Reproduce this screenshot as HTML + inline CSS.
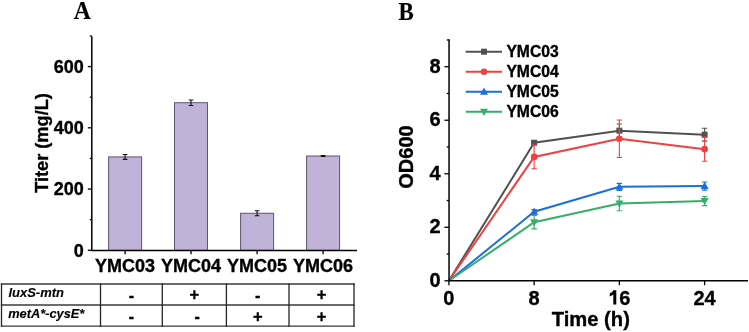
<!DOCTYPE html>
<html><head><meta charset="utf-8"><style>
html,body{margin:0;padding:0;background:#fff;}
svg{display:block;will-change:transform;}
text{font-family:"Liberation Sans",sans-serif;font-weight:bold;fill:#000;stroke:#000;stroke-width:0.35px;}
text.it{stroke-width:0.15px;}
text.serif{font-family:"Liberation Serif",serif;stroke-width:0.15px;}
</style></head><body>
<svg width="749" height="332" viewBox="0 0 749 332">
<text transform="translate(82.3 18.8) scale(0.95 1.0)" font-size="25" text-anchor="middle" class="serif">A</text>
<rect x="108.6" y="156.91" width="33" height="93.49" fill="#C0B2D8" stroke="#5E5670" stroke-width="1"/>
<path d="M125.1 154.46V159.36M122.8 154.46H127.4M122.8 159.36H127.4" stroke="#111" stroke-width="1.1" fill="none"/>
<text x="125.1" y="271.5" font-size="18" text-anchor="middle">YMC03</text>
<path d="M125.1 250.4V254.3" stroke="#000" stroke-width="1.3"/>
<rect x="174.5" y="102.71" width="33" height="147.69" fill="#C0B2D8" stroke="#5E5670" stroke-width="1"/>
<path d="M191 99.96V105.47M188.7 99.96H193.3M188.7 105.47H193.3" stroke="#111" stroke-width="1.1" fill="none"/>
<text x="191" y="271.5" font-size="18" text-anchor="middle">YMC04</text>
<path d="M191 250.4V254.3" stroke="#000" stroke-width="1.3"/>
<rect x="240.6" y="213.25" width="33" height="37.15" fill="#C0B2D8" stroke="#5E5670" stroke-width="1"/>
<path d="M257.1 210.8V215.7M254.8 210.8H259.4M254.8 215.7H259.4" stroke="#111" stroke-width="1.1" fill="none"/>
<text x="257.1" y="271.5" font-size="18" text-anchor="middle">YMC05</text>
<path d="M257.1 250.4V254.3" stroke="#000" stroke-width="1.3"/>
<rect x="306.6" y="155.99" width="33" height="94.41" fill="#C0B2D8" stroke="#5E5670" stroke-width="1"/>
<path d="M323.1 155.53V156.45M320.8 155.53H325.4M320.8 156.45H325.4" stroke="#111" stroke-width="1.1" fill="none"/>
<text x="323.1" y="271.5" font-size="18" text-anchor="middle">YMC06</text>
<path d="M323.1 250.4V254.3" stroke="#000" stroke-width="1.3"/>
<path d="M91.8 36.2V250.4H357" stroke="#000" stroke-width="1.5" fill="none"/>
<path d="M87.8 250.3H91.8" stroke="#000" stroke-width="1.3"/>
<text x="83.8" y="256.5" font-size="18" text-anchor="end">0</text>
<path d="M89.8 219.68H91.8" stroke="#000" stroke-width="1.3"/>
<path d="M87.8 189.06H91.8" stroke="#000" stroke-width="1.3"/>
<text x="83.8" y="195.26" font-size="18" text-anchor="end">200</text>
<path d="M89.8 158.44H91.8" stroke="#000" stroke-width="1.3"/>
<path d="M87.8 127.82H91.8" stroke="#000" stroke-width="1.3"/>
<text x="83.8" y="134.02" font-size="18" text-anchor="end">400</text>
<path d="M89.8 97.2H91.8" stroke="#000" stroke-width="1.3"/>
<path d="M87.8 66.58H91.8" stroke="#000" stroke-width="1.3"/>
<text x="83.8" y="72.78" font-size="18" text-anchor="end">600</text>
<path d="M89.8 35.96H91.8" stroke="#000" stroke-width="1.3"/>
<text transform="translate(47.8 143) rotate(-90)" font-size="18.2" text-anchor="middle">Titer (mg/L)</text>
<path d="M0.85 284H354.65" stroke="#3a3a3a" stroke-width="1.3"/>
<path d="M0.85 305H354.65" stroke="#3a3a3a" stroke-width="1.3"/>
<path d="M0.85 326.2H354.65" stroke="#3a3a3a" stroke-width="1.3"/>
<path d="M1.5 283.35V326.85" stroke="#262626" stroke-width="1.3"/>
<path d="M100.5 283.35V326.85" stroke="#262626" stroke-width="1.3"/>
<path d="M162.3 283.35V326.85" stroke="#262626" stroke-width="1.3"/>
<path d="M226.4 283.35V326.85" stroke="#262626" stroke-width="1.3"/>
<path d="M289 283.35V326.85" stroke="#262626" stroke-width="1.3"/>
<path d="M354 283.35V326.85" stroke="#262626" stroke-width="1.3"/>
<text x="8.4" y="296.7" font-size="13" font-style="italic" class="it">luxS-mtn</text>
<text x="8.2" y="317.8" font-size="12.8" font-style="italic" class="it">metA*-cysE*</text>
<text x="131.4" y="300.5" font-size="16" text-anchor="middle">-</text>
<text x="194.4" y="300.2" font-size="16.5" text-anchor="middle">+</text>
<text x="257.7" y="300.5" font-size="16" text-anchor="middle">-</text>
<text x="321.5" y="300.2" font-size="16.5" text-anchor="middle">+</text>
<text x="131.4" y="322" font-size="16" text-anchor="middle">-</text>
<text x="197.2" y="322" font-size="16" text-anchor="middle">-</text>
<text x="257.7" y="321.7" font-size="16.5" text-anchor="middle">+</text>
<text x="321.5" y="321.7" font-size="16.5" text-anchor="middle">+</text>
<text transform="translate(406.2 19.6) scale(0.955 1.07)" font-size="24" text-anchor="middle" class="serif">B</text>
<path d="M444.4 280.8H448.9" stroke="#000" stroke-width="1.3"/>
<text x="440.6" y="286.8" font-size="20" text-anchor="end">0</text>
<path d="M446.7 254.04H448.9" stroke="#000" stroke-width="1.3"/>
<path d="M444.4 227.28H448.9" stroke="#000" stroke-width="1.3"/>
<text x="440.6" y="233.28" font-size="20" text-anchor="end">2</text>
<path d="M446.7 200.52H448.9" stroke="#000" stroke-width="1.3"/>
<path d="M444.4 173.76H448.9" stroke="#000" stroke-width="1.3"/>
<text x="440.6" y="179.76" font-size="20" text-anchor="end">4</text>
<path d="M446.7 147H448.9" stroke="#000" stroke-width="1.3"/>
<path d="M444.4 120.24H448.9" stroke="#000" stroke-width="1.3"/>
<text x="440.6" y="126.24" font-size="20" text-anchor="end">6</text>
<path d="M446.7 93.48H448.9" stroke="#000" stroke-width="1.3"/>
<path d="M444.4 66.72H448.9" stroke="#000" stroke-width="1.3"/>
<text x="440.6" y="72.72" font-size="20" text-anchor="end">8</text>
<path d="M446.7 39.96H448.9" stroke="#000" stroke-width="1.3"/>
<path d="M448.9 280.8V285.2" stroke="#000" stroke-width="1.3"/>
<text x="448.9" y="304.5" font-size="20" text-anchor="middle">0</text>
<path d="M534.13 280.8V285.2" stroke="#000" stroke-width="1.3"/>
<text x="534.13" y="304.5" font-size="20" text-anchor="middle">8</text>
<path d="M619.36 280.8V285.2" stroke="#000" stroke-width="1.3"/>
<text x="619.36" y="304.5" font-size="20">6</text>
<path d="M613.4 290.3H616.3V304.6H613.3V294.6Q611.9 295.8 609.8 296.5V293.5Q612.3 292.5 613.4 290.3Z" fill="#000"/>
<path d="M704.6 280.8V285.2" stroke="#000" stroke-width="1.3"/>
<text x="704.6" y="304.5" font-size="20" text-anchor="middle">24</text>
<text x="590.8" y="326.4" font-size="20.2" text-anchor="middle">Time (h)</text>
<text transform="translate(413.2 157) rotate(-90)" font-size="20" text-anchor="middle">OD600</text>
<path d="M448.9 280.8 L534.13 142.72 L619.36 130.68 L704.6 134.69" stroke="#515151" stroke-width="2" fill="none"/>
<path d="M448.9 280.8 L534.13 156.9 L619.36 138.7 L704.6 149.14" stroke="#F14040" stroke-width="2" fill="none"/>
<path d="M448.9 280.8 L534.13 211.76 L619.36 186.87 L704.6 186.07" stroke="#1A6FDF" stroke-width="2" fill="none"/>
<path d="M448.9 280.8 L534.13 222.2 L619.36 203.46 L704.6 201.06" stroke="#37AD6B" stroke-width="2" fill="none"/>
<path d="M534.13 141.38V144.06M531.43 141.38H536.83M531.43 144.06H536.83" stroke="#515151" stroke-width="1.1" fill="none"/>
<rect x="531.13" y="139.72" width="6" height="6" fill="#515151"/>
<path d="M619.36 123.99V137.37M616.66 123.99H622.06M616.66 137.37H622.06" stroke="#515151" stroke-width="1.1" fill="none"/>
<rect x="616.36" y="127.68" width="6" height="6" fill="#515151"/>
<path d="M704.6 128.27V141.11M701.9 128.27H707.3M701.9 141.11H707.3" stroke="#515151" stroke-width="1.1" fill="none"/>
<rect x="701.6" y="131.69" width="6" height="6" fill="#515151"/>
<path d="M534.13 145.13V168.68M531.43 145.13H536.83M531.43 168.68H536.83" stroke="#F14040" stroke-width="1.1" fill="none"/>
<circle cx="534.13" cy="156.9" r="3.3" fill="#F14040"/>
<path d="M619.36 119.97V157.44M616.66 119.97H622.06M616.66 157.44H622.06" stroke="#F14040" stroke-width="1.1" fill="none"/>
<circle cx="619.36" cy="138.7" r="3.3" fill="#F14040"/>
<path d="M704.6 137.1V161.18M701.9 137.1H707.3M701.9 161.18H707.3" stroke="#F14040" stroke-width="1.1" fill="none"/>
<circle cx="704.6" cy="149.14" r="3.3" fill="#F14040"/>
<path d="M534.13 209.62V213.9M531.43 209.62H536.83M531.43 213.9H536.83" stroke="#1A6FDF" stroke-width="1.1" fill="none"/>
<path d="M534.13 207.56L538.13 214.76H530.13Z" fill="#1A6FDF"/>
<path d="M619.36 183.39V190.35M616.66 183.39H622.06M616.66 190.35H622.06" stroke="#1A6FDF" stroke-width="1.1" fill="none"/>
<path d="M619.36 182.67L623.36 189.87H615.36Z" fill="#1A6FDF"/>
<path d="M704.6 182.06V190.08M701.9 182.06H707.3M701.9 190.08H707.3" stroke="#1A6FDF" stroke-width="1.1" fill="none"/>
<path d="M704.6 181.87L708.6 189.07H700.6Z" fill="#1A6FDF"/>
<path d="M534.13 215.51V228.89M531.43 215.51H536.83M531.43 228.89H536.83" stroke="#37AD6B" stroke-width="1.1" fill="none"/>
<path d="M534.13 226.4L538.13 219.2H530.13Z" fill="#37AD6B"/>
<path d="M619.36 196.24V210.69M616.66 196.24H622.06M616.66 210.69H622.06" stroke="#37AD6B" stroke-width="1.1" fill="none"/>
<path d="M619.36 207.66L623.36 200.46H615.36Z" fill="#37AD6B"/>
<path d="M704.6 196.51V205.6M701.9 196.51H707.3M701.9 205.6H707.3" stroke="#37AD6B" stroke-width="1.1" fill="none"/>
<path d="M704.6 205.26L708.6 198.06H700.6Z" fill="#37AD6B"/>
<path d="M449.05 39.2V280.8H748" stroke="#000" stroke-width="1.5" fill="none"/>
<path d="M465.7 51.7H502" stroke="#515151" stroke-width="2"/>
<rect x="481" y="48.7" width="6" height="6" fill="#515151"/>
<text x="506.4" y="56.8" font-size="15.7">YMC03</text>
<path d="M465.7 71.75H502" stroke="#F14040" stroke-width="2"/>
<circle cx="484" cy="71.75" r="3.3" fill="#F14040"/>
<text x="506.4" y="76.85" font-size="15.7">YMC04</text>
<path d="M465.7 91.8H502" stroke="#1A6FDF" stroke-width="2"/>
<path d="M484 87.6L488 94.8H480Z" fill="#1A6FDF"/>
<text x="506.4" y="96.9" font-size="15.7">YMC05</text>
<path d="M465.7 111.85H502" stroke="#37AD6B" stroke-width="2"/>
<path d="M484 116.05L488 108.85H480Z" fill="#37AD6B"/>
<text x="506.4" y="116.95" font-size="15.7">YMC06</text>
</svg>
</body></html>
